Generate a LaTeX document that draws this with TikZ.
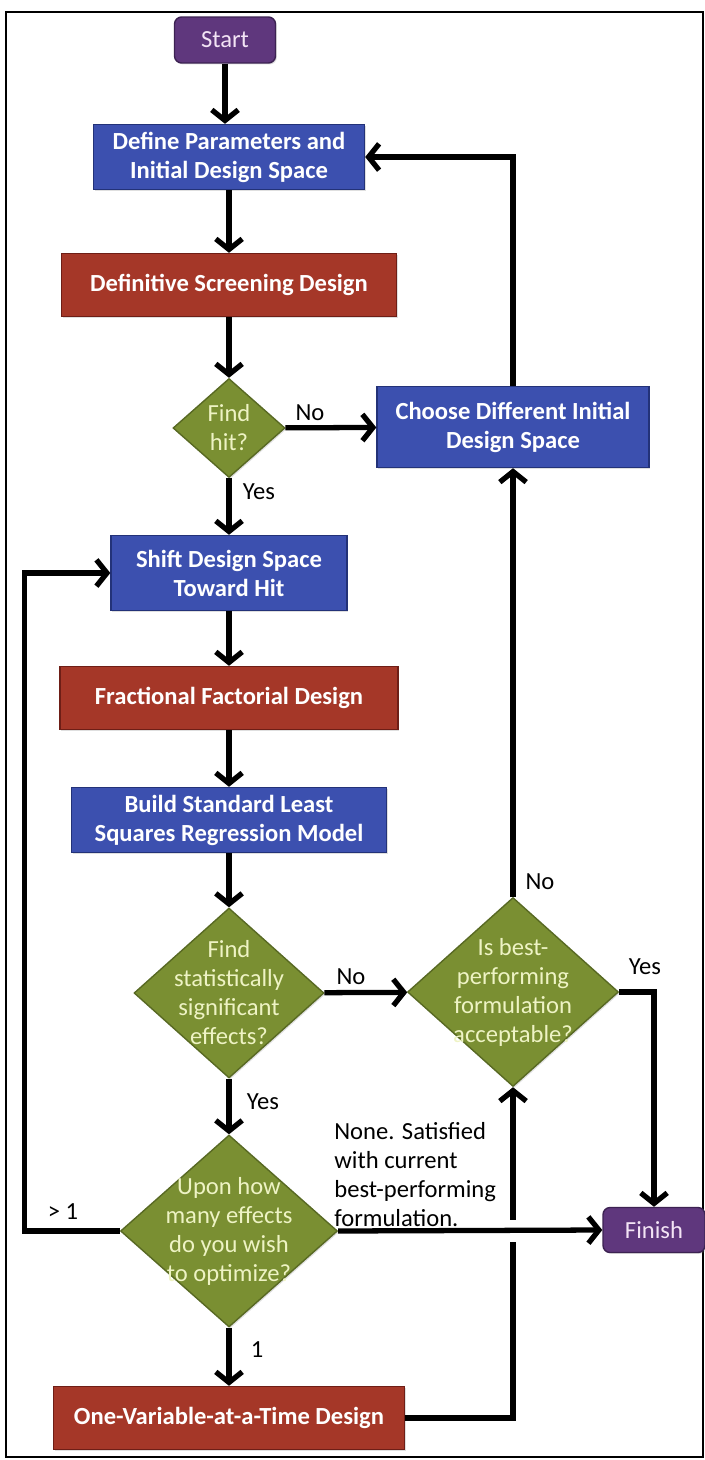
\documentclass[tikz,border=0pt]{standalone}
\usepackage{fontspec}
\setmainfont{Carlito}
\usetikzlibrary{shapes.geometric,arrows.meta,shadows}

\definecolor{termfill}{RGB}{95,55,125}
\definecolor{termline}{RGB}{60,34,82}
\definecolor{procfill}{RGB}{60,80,175}
\definecolor{procline}{RGB}{35,50,120}
\definecolor{dsgnfill}{RGB}{165,55,40}
\definecolor{dsgnline}{RGB}{110,30,22}
\definecolor{decfill}{RGB}{122,143,50}
\definecolor{decline}{RGB}{88,105,35}
\definecolor{dectext}{RGB}{238,243,196}
\definecolor{termtext}{RGB}{243,228,245}

\begin{document}
\begin{tikzpicture}[x=0.02cm, y=-0.02cm,
	every node/.style={font=\fontsize{14}{16.5}\selectfont},
	boxbase/.style={rectangle, draw, line width=0.8pt, align=center, text=white, font=\fontsize{14}{16.5}\selectfont\bfseries, drop shadow={opacity=0.25, shadow xshift=0.8pt, shadow yshift=-0.8pt}},
	process/.style={boxbase, fill=procfill, draw=procline},
	dsgn/.style={boxbase, fill=dsgnfill, draw=dsgnline},
	terminal/.style={boxbase, rounded corners=4pt, fill=termfill, draw=termline, text=termtext, font=\fontsize{14}{16.5}\selectfont},
	decision/.style={diamond, draw=decline, line width=0.8pt, fill=decfill, inner sep=-40pt, align=center, text=dectext, drop shadow={opacity=0.25, shadow xshift=0.8pt, shadow yshift=-0.8pt}},
	flow/.style={line width=3pt, -{Straight Barb[length=6pt,width=15pt]}},
	lbl/.style={inner sep=0pt, text=black}]
	\useasboundingbox (0,0) rectangle (705,1460);
	\draw[line width=1.1pt] (6,12) rectangle (703,1457);

	\node (start) [terminal, minimum width=2.02cm, minimum height=0.92cm] at (225,40) {Start};
	\node (define) [process, minimum width=5.42cm, minimum height=1.30cm] at (229,157) {Define Parameters and\\Initial Design Space};
	\node (dsd) [dsgn, minimum width=6.70cm, minimum height=1.26cm] at (229,285) {Definitive Screening Design};
	\node (findhit) [decision, minimum width=2.24cm, minimum height=1.98cm] at (229,428) {Find\\hit?};
	\node (choose) [process, minimum width=5.44cm, minimum height=1.62cm] at (513,427) {Choose Different Initial\\Design Space};
	\node (shift) [process, minimum width=4.72cm, minimum height=1.50cm] at (229,573) {Shift Design Space\\Toward Hit};
	\node (ffd) [dsgn, minimum width=6.76cm, minimum height=1.26cm] at (229,698) {Fractional Factorial Design};
	\node (model) [process, minimum width=6.30cm, minimum height=1.30cm] at (229,820) {Build Standard Least\\Squares Regression Model};
	\node (findsig) [decision, minimum width=3.80cm, minimum height=3.40cm] at (229,993) {Find\\statistically\\significant\\effects?};
	\node (isbest) [decision, minimum width=4.22cm, minimum height=3.78cm] at (513,992) {Is best-\\performing\\formulation\\acceptable?};
	\node (howmany) [decision, minimum width=4.34cm, minimum height=3.84cm] at (229,1231) {Upon how\\many effects\\do you wish\\to optimize?};
	\node (ovat) [dsgn, minimum width=7.02cm, minimum height=1.26cm] at (229,1418) {One-Variable-at-a-Time Design};
	\node (finish) [terminal, minimum width=2.04cm, minimum height=0.90cm] at (654,1230) {Finish};

	\draw[flow] (start) -- (start |- define.north);
	\draw[flow] (define) -- (dsd);
	\draw[flow] (dsd) -- (findhit);
	\draw[flow] (findhit) -- (choose);
	\draw[flow] (findhit) -- (shift);
	\draw[flow] (choose.north) |- (define.east);
	\draw[flow] (shift) -- (ffd);
	\draw[flow] (ffd) -- (model);
	\draw[flow] (model) -- (findsig);
	\draw[flow] (findsig) -- (isbest);
	\draw[flow] (findsig) -- (howmany);
	\draw[flow] (isbest) -- (choose);
	\draw[flow] (isbest.east) -| (finish.north);
	\draw[flow] (howmany.west) -- ++(-95,0) |- (shift.west);
	\draw[flow] (howmany) -- (ovat);
	\draw[flow] (ovat.east) -| (isbest.south);
	%Sprung über die Linie
	\coordinate (hop) at (isbest.south |- howmany.east);
	\fill[white] ([shift={(-5,-11)}]hop) rectangle ([shift={(5,11)}]hop);
	\draw[flow] (howmany.east) -- (finish.west);

	\node (noA) [lbl] at (310,413) {No};
	\node (yesA) [lbl] at (259,492) {Yes};
	\node (noB) [lbl] at (351,977) {No};
	\node (noC) [lbl] at (540,882) {No};
	\node (yesB) [lbl] at (645,967) {Yes};
	\node (yesC) [lbl] at (263,1102) {Yes};
	\node (more) [lbl] at (63,1212) {> 1};
	\node (one) [lbl] at (257,1350) {1};
	\node (none) [lbl, align=left, anchor=west] at (334,1175) {None. Satisfied\\with current\\best-performing\\formulation.};
\end{tikzpicture}
\end{document}
